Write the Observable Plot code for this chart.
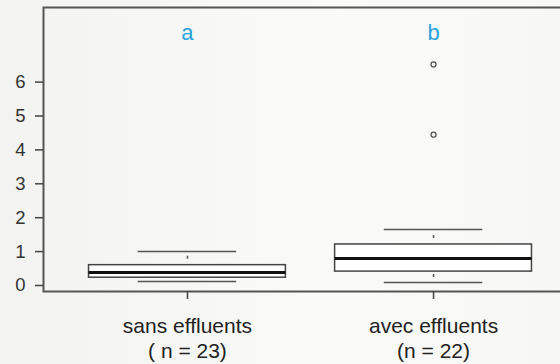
<!DOCTYPE html>
<html><head><meta charset="utf-8">
<script src="https://cdn.jsdelivr.net/npm/d3@7"></script>
<script src="https://cdn.jsdelivr.net/npm/@observablehq/plot@0.6"></script>
<style>
html,body{margin:0;padding:0;width:560px;height:364px;overflow:hidden;background:linear-gradient(90deg,#f3f3f1,#fafaf8 60%,#f7f7f5);}
#chart{position:absolute;left:0;top:0;width:600px;}
#chart svg{max-width:none !important;}
#chart svg g[aria-label^="y-axis"] text{font-size:18.5px !important;fill:#333 !important;}
#chart svg g[aria-label^="x-axis"] text{font-size:21px !important;fill:#222 !important;}
</style></head><body><div id="chart"></div>
<script>
const groups = ["sans effluents", "avec effluents"];
const counts = ["( n = 23)", "(n = 22)"];
const letters = ["a", "b"];
const lowerWhisker = [0.12, 0.09];
const q1 = [0.23, 0.41];
const median = [0.38, 0.80];
const q3 = [0.60, 1.21];
const upperWhisker = [1.00, 1.65];
const outlierGroup = [2, 2];
const outlierValue = [6.52, 4.45];
const yTicks = [0, 1, 2, 3, 4, 5, 6];

const boxes = groups.map((g, i) => ({
  pos: i + 1, g, lo: lowerWhisker[i], q1: q1[i], med: median[i], q3: q3[i], hi: upperWhisker[i], letter: letters[i]
}));
const outliers = outlierGroup.map((p, i) => ({pos: p, v: outlierValue[i]}));

const W = 0.4, C = 0.2;
const plot = Plot.plot({
  width: 580, height: 364,
  marginLeft: 43, marginRight: 3, marginTop: 7, marginBottom: 73,
  style: {background: "transparent", fontFamily: "Liberation Sans, Arial, sans-serif", fontSize: "16.5px", color: "#333", maxWidth: "none"},
  x: {domain: [1 - 0.585, 2 + 0.585]},
  y: {domain: [-0.177, 8.2]},
  marks: [
    Plot.frame({stroke: "#555", strokeWidth: 2}),
    Plot.axisY({ticks: yTicks, tickSize: 8, tickPadding: 10, stroke: "#444", strokeWidth: 1.5, label: null}),
    Plot.axisX({ticks: [1, 2], tickSize: 8, tickPadding: 16, lineHeight: 1.19, stroke: "#444", strokeWidth: 1.5,
      tickFormat: d => groups[d - 1] + "\n" + counts[d - 1], label: null}),
    // whiskers (dashed)
    Plot.ruleX(boxes, {x: "pos", y1: "q3", y2: "hi", stroke: "#555", strokeWidth: 1.5, strokeDasharray: "0,6,3,100"}),
    Plot.ruleX(boxes, {x: "pos", y1: "lo", y2: "q1", stroke: "#555", strokeWidth: 1.5, strokeDasharray: "0,5,3,100"}),
    // caps
    Plot.ruleY(boxes, {y: "hi", x1: d => d.pos - C, x2: d => d.pos + C, stroke: "#555", strokeWidth: 1.5}),
    Plot.ruleY(boxes, {y: "lo", x1: d => d.pos - C, x2: d => d.pos + C, stroke: "#555", strokeWidth: 1.5}),
    // boxes
    Plot.rect(boxes, {x1: d => d.pos - W, x2: d => d.pos + W, y1: "q1", y2: "q3", fill: "white", stroke: "#444", strokeWidth: 1.5}),
    Plot.ruleY(boxes, {y: "med", x1: d => d.pos - W, x2: d => d.pos + W, stroke: "#111", strokeWidth: 3}),
    Plot.dot(outliers, {x: "pos", y: "v", r: 2.5, stroke: "#555", strokeWidth: 1.3}),
    Plot.text(boxes, {x: "pos", y: 7.45, text: "letter", fill: "#29a3dc", fontSize: 21})
  ]
});
d3.select(plot).selectAll('g[aria-label="text"]').attr("font-size", null).style("font-size", "22px");
document.getElementById("chart").appendChild(plot);
</script></body></html>
